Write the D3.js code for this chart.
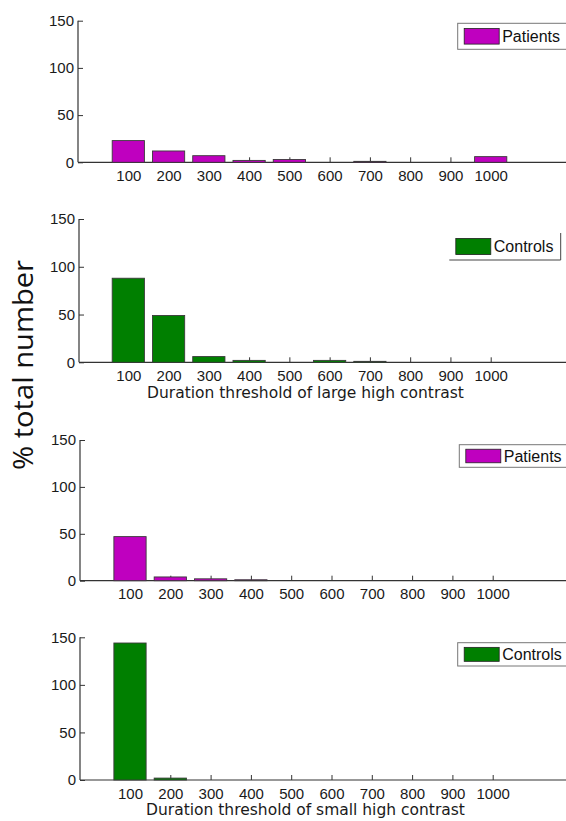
<!DOCTYPE html>
<html>
<head>
<meta charset="utf-8">
<script src="https://cdn.jsdelivr.net/npm/d3@7"></script>
<style>
  html, body { margin: 0; padding: 0; background: #fff; }
  svg { display: block; }
  .tick text { font-family: "Liberation Sans", Arial, sans-serif; font-size: 15px; fill: #1a1a1a; }
</style>
</head>
<body>
<svg id="chart" width="566" height="821"></svg>
<script>
// Duration thresholds (ms) on the x axis
const thresholds = [100, 200, 300, 400, 500, 600, 700, 800, 900, 1000];
const yTicks = [0, 50, 100, 150];

// % of total number per threshold
const largePatients = [23, 12, 7, 2, 3, 0, 1, 0, 0, 6];
const largeControls = [88, 49, 6, 2, 0, 2, 1, 0, 0, 0];
const smallPatients = [47, 4, 2, 1, 0, 0, 0, 0, 0, 0];
const smallControls = [144, 2, 0, 0, 0, 0, 0, 0, 0, 0];

const groupNames = ["Patients", "Controls"];
const groupColors = { Patients: "#bf00bf", Controls: "#007f00" };
const xTitles = ["Duration threshold of large high contrast", "Duration threshold of small high contrast"];

// Panel layout
const panels = [
  { values: largePatients, group: "Patients", ax: 78, top: 20.7, bottom: 162.3, x0: 128.3, x1: 490.7,
    legend: { x: 457.7, y: 23.3, h: 26, box: "full" } },
  { values: largeControls, group: "Controls", ax: 79, top: 219, bottom: 362.3, x0: 128.3, x1: 490.7,
    legend: { x: 449.3, y: 233, h: 27, right: 560.7, box: "corner" }, title: xTitles[0], titleY: 398 },
  { values: smallPatients, group: "Patients", ax: 80, top: 440, bottom: 580.7, x0: 130, x1: 492.7,
    legend: { x: 459.3, y: 444.7, h: 22.6, box: "full" } },
  { values: smallControls, group: "Controls", ax: 80, top: 637.3, bottom: 780, x0: 130, x1: 492.7,
    legend: { x: 457.7, y: 642.7, h: 23.3, box: "full" }, title: xTitles[1], titleY: 815 }
];

const svg = d3.select("#chart");
const W = 566;

panels.forEach(p => {
  const x = d3.scaleLinear().domain([thresholds[0], thresholds[thresholds.length - 1]]).range([p.x0, p.x1]);
  const y = d3.scaleLinear().domain([0, 150]).range([p.bottom, p.top]);
  const step = x(thresholds[1]) - x(thresholds[0]);
  const bw = step * 0.8;
  const g = svg.append("g");

  // x axis (inward ticks), line spans to the right edge
  const xa = g.append("g").attr("transform", `translate(0,${p.bottom})`)
    .call(d3.axisBottom(x).tickValues(thresholds).tickFormat(d3.format("d"))
      .tickSizeInner(-5).tickSizeOuter(0).tickPadding(8));
  xa.select(".domain").remove();
  xa.selectAll(".tick line").attr("stroke", "#333");
  g.append("line").attr("x1", p.ax).attr("x2", W).attr("y1", p.bottom).attr("y2", p.bottom)
    .attr("stroke", "#333").attr("stroke-width", 1.2);

  // y axis
  const ya = g.append("g").attr("transform", `translate(${p.ax},0)`)
    .call(d3.axisLeft(y).tickValues(yTicks).tickSizeInner(-5).tickSizeOuter(0).tickPadding(4));
  ya.select(".domain").remove();
  ya.selectAll(".tick line").attr("stroke", "#333");
  g.append("line").attr("x1", p.ax).attr("x2", p.ax).attr("y1", p.top).attr("y2", p.bottom)
    .attr("stroke", "#333").attr("stroke-width", 1.2);

  // bars
  g.selectAll("rect.bar").data(thresholds.map((t, i) => ({ t, v: p.values[i] })).filter(d => d.v > 0))
    .join("rect").attr("class", "bar")
    .attr("x", d => x(d.t) - bw / 2)
    .attr("width", bw)
    .attr("y", d => y(d.v))
    .attr("height", d => y(0) - y(d.v))
    .attr("fill", groupColors[p.group])
    .attr("stroke", "#3a3a3a").attr("stroke-width", 0.9);

  // legend
  const L = p.legend;
  if (L.box === "full") {
    g.append("rect").attr("x", L.x).attr("y", L.y).attr("width", W + 10 - L.x).attr("height", L.h)
      .attr("fill", "#fff").attr("stroke", "#777").attr("stroke-width", 1);
  } else {
    g.append("path").attr("d", `M${L.x},${L.y + L.h}H${L.right}V${L.y}`)
      .attr("fill", "none").attr("stroke", "#444").attr("stroke-width", 1);
  }
  const sh = L.h * 0.6;
  const sy = L.y + (L.h - sh) / 2;
  g.append("rect").attr("x", L.x + 6.5).attr("y", sy).attr("width", 35).attr("height", sh)
    .attr("fill", groupColors[p.group]).attr("stroke", "#222").attr("stroke-width", 0.8);
  g.append("text").attr("x", L.x + 44.5).attr("y", L.y + L.h / 2 + 5.5)
    .attr("font-family", "Liberation Sans, Arial, sans-serif").attr("font-size", 16)
    .attr("fill", "#111").text(p.group);

  if (p.title) {
    g.append("text").attr("x", 305.5).attr("y", p.titleY).attr("text-anchor", "middle")
      .attr("font-family", "DejaVu Sans, sans-serif").attr("font-size", 15.5)
      .attr("fill", "#1a1a1a").text(p.title);
  }
});

// shared y-axis title
svg.append("text")
  .attr("transform", "translate(33,365) rotate(-90)")
  .attr("text-anchor", "middle")
  .attr("font-family", "Open Sans, sans-serif").attr("font-size", 27)
  .attr("textLength", 210).attr("lengthAdjust", "spacingAndGlyphs")
  .attr("fill", "#111").text("% total number");
</script>
</body>
</html>
